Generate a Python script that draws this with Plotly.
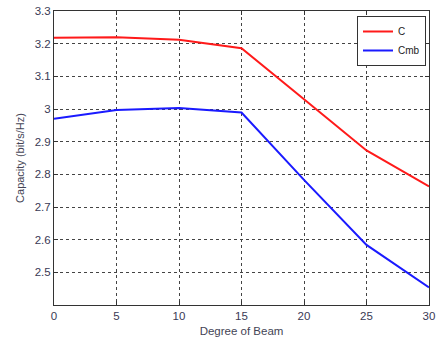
import plotly.graph_objects as go

degrees = [0, 5, 10, 15, 20, 25, 30]
cap_c = [3.218, 3.220, 3.212, 3.186, 3.030, 2.873, 2.763]
cap_cmb = [2.970, 2.997, 3.003, 2.989, 2.783, 2.584, 2.454]
x_ticks = [0, 5, 10, 15, 20, 25, 30]
y_ticks = [2.5, 2.6, 2.7, 2.8, 2.9, 3.0, 3.1, 3.2, 3.3]
y_tick_text = ["2.5", "2.6", "2.7", "2.8", "2.9", "3", "3.1", "3.2", "3.3"]

fig = go.Figure()
fig.add_trace(go.Scatter(x=degrees, y=cap_c, mode="lines", name="C",
                         line=dict(color="#ff1a1a", width=2)))
fig.add_trace(go.Scatter(x=degrees, y=cap_cmb, mode="lines", name="Cmb",
                         line=dict(color="#1a1aff", width=2)))

FONT = "Liberation Sans, Arial, sans-serif"
tickfont = dict(family=FONT, size=11.5, color="#3a3a55")
axis_common = dict(showline=True, linecolor="#333333", linewidth=1, mirror="ticks",
                   ticks="inside", ticklen=4, tickcolor="#333333",
                   showgrid=True, gridcolor="#444444", griddash="dot", gridwidth=1,
                   zeroline=False, tickfont=tickfont, automargin=False)

fig.update_xaxes(range=[0, 30], tickvals=x_ticks,
                 title=dict(text="Degree of Beam", standoff=6,
                            font=dict(family=FONT, size=11.5, color="#444455")),
                 **axis_common)
fig.update_yaxes(range=[2.4, 3.3], tickvals=y_ticks, ticktext=y_tick_text,
                 title=dict(text="Capacity (bit/s/Hz)", standoff=7,
                            font=dict(family=FONT, size=11, color="#444455")),
                 **axis_common)

fig.update_layout(
    width=437, height=339,
    margin=dict(l=54, r=8, t=11, b=34, autoexpand=False),
    paper_bgcolor="white", plot_bgcolor="white",
    showlegend=True,
    legend=dict(x=0.992, y=0.983, xanchor="right", yanchor="top",
                bgcolor="white", bordercolor="#333333", borderwidth=1,
                font=dict(family=FONT, size=10, color="#222222"),
                tracegroupgap=0, itemwidth=30),
)

fig.write_html("out.html", config={"displayModeBar": False},
               post_script="document.body.style.margin='0';document.body.style.overflow='hidden';")
